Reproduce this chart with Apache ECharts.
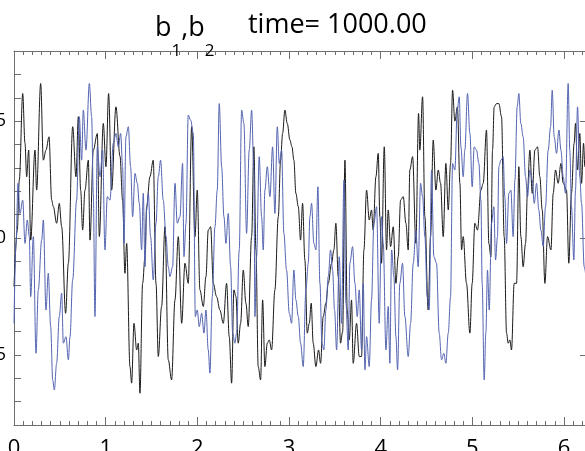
<!DOCTYPE html>
<html>
<head>
<meta charset="utf-8">
<script src="https://cdn.jsdelivr.net/npm/echarts@6/dist/echarts.min.js"></script>
<style>html,body{margin:0;padding:0;background:#fff;}#c{width:585px;height:451px;}</style>
</head>
<body>
<div id="c"></div>
<script>
// x range 0..2*pi, y range -0.8..0.8
const xMin = 0, xMax = 6.2832;
const yMin = -0.8, yMax = 0.8;
const xMajorTicks = [0, 1, 2, 3, 4, 5, 6];
const yLabelValues = [-0.5, 0, 0.5];
const titleTime = 'time= 1000.00';

// b1 (black)
const b1 = [
[0.000,-0.208],[0.036,0.034],[0.058,0.248],[0.095,0.618],[0.120,0.405],[0.138,0.262],[0.160,0.376],[0.182,-0.009],
[0.229,0.376],[0.247,0.205],[0.291,0.661],[0.320,0.333],[0.349,0.376],[0.382,0.433],[0.411,0.162],[0.429,0.134],
[0.465,0.063],[0.494,0.148],[0.520,0.048],[0.563,-0.322],[0.593,-0.108],[0.640,0.476],[0.676,0.262],[0.702,0.519],
[0.727,0.205],[0.749,0.034],[0.774,0.205],[0.811,0.333],[0.829,-0.009],[0.865,0.376],[0.909,0.447],[0.931,0.006],
[0.974,0.490],[1.003,0.305],[1.032,0.618],[1.065,0.205],[1.112,0.561],[1.156,0.350],[1.185,0.160],[1.210,-0.151],
[1.229,-0.023],[1.265,-0.550],[1.283,-0.621],[1.309,-0.365],[1.338,-0.479],[1.356,-0.450],[1.374,-0.664],[1.403,-0.194],
[1.429,-0.080],[1.447,0.134],[1.483,0.262],[1.519,0.333],[1.549,-0.194],[1.574,-0.507],[1.610,-0.293],[1.647,0.048],
[1.683,-0.521],[1.719,-0.607],[1.756,-0.265],[1.792,0.006],[1.829,-0.365],[1.865,-0.108],[1.901,-0.194],[1.938,0.476],
[1.974,0.006],[1.999,0.205],[2.028,-0.222],[2.065,-0.293],[2.094,-0.165],[2.119,0.034],[2.145,0.048],[2.174,-0.194],
[2.210,-0.251],[2.246,-0.308],[2.283,-0.365],[2.319,-0.194],[2.348,-0.422],[2.374,-0.621],[2.399,-0.222],[2.421,-0.251],
[2.446,-0.450],[2.472,-0.365],[2.501,-0.137],[2.530,-0.279],[2.555,-0.379],[2.592,0.006],[2.617,0.390],[2.639,-0.051],
[2.664,-0.550],[2.690,-0.607],[2.712,-0.265],[2.737,-0.550],[2.763,-0.450],[2.784,-0.436],[2.810,-0.479],[2.846,-0.222],
[2.883,0.091],[2.908,0.333],[2.930,0.447],[2.955,0.547],[2.981,0.490],[3.010,0.419],[3.032,0.390],[3.053,0.333],
[3.075,0.191],[3.101,0.134],[3.126,-0.009],[3.148,0.148],[3.173,-0.094],[3.199,-0.407],[3.221,-0.365],[3.242,-0.279],
[3.264,-0.450],[3.293,-0.550],[3.322,-0.479],[3.344,-0.536],[3.373,-0.336],[3.402,-0.279],[3.428,-0.194],[3.464,-0.108],
[3.489,-0.051],[3.511,0.063],[3.537,-0.165],[3.562,-0.450],[3.585,-0.400],[3.610,0.333],[3.635,-0.308],[3.657,-0.436],
[3.682,-0.265],[3.700,-0.536],[3.737,-0.365],[3.766,-0.507],[3.791,-0.507],[3.817,-0.051],[3.846,0.205],[3.875,0.077],
[3.900,0.120],[3.918,0.034],[3.948,0.262],[3.973,0.362],[3.991,0.091],[4.009,-0.108],[4.039,0.390],[4.064,-0.051],
[4.082,0.120],[4.108,-0.037],[4.137,0.048],[4.166,-0.194],[4.191,-0.080],[4.217,0.162],[4.246,0.177],[4.275,0.063],
[4.300,-0.051],[4.318,0.291],[4.348,0.348],[4.384,-0.023],[4.413,0.533],[4.427,0.376],[4.457,0.604],[4.482,0.091],
[4.518,-0.308],[4.544,0.006],[4.573,0.419],[4.602,0.205],[4.628,0.291],[4.653,0.234],[4.682,0.006],[4.711,0.319],
[4.737,0.120],[4.762,0.319],[4.784,0.632],[4.809,0.500],[4.837,0.561],[4.864,0.234],[4.882,-0.051],[4.900,0.006],
[4.936,-0.194],[4.973,-0.407],[4.998,-0.194],[5.027,0.063],[5.056,0.034],[5.093,0.205],[5.118,0.234],[5.154,0.462],
[5.180,-0.023],[5.202,-0.080],[5.220,0.376],[5.238,0.561],[5.264,0.575],[5.289,0.575],[5.318,0.519],[5.347,0.006],
[5.373,-0.407],[5.391,-0.450],[5.409,-0.436],[5.427,-0.479],[5.456,-0.194],[5.482,-0.194],[5.507,0.305],[5.529,0.006],
[5.554,-0.123],[5.580,-0.023],[5.602,0.205],[5.627,0.376],[5.653,0.191],[5.682,0.376],[5.711,0.390],[5.736,0.262],
[5.762,0.120],[5.791,-0.194],[5.820,0.006],[5.857,-0.051],[5.882,0.191],[5.907,0.291],[5.936,0.234],[5.966,0.319],
[5.991,0.234],[6.027,0.205],[6.052,-0.108],[6.081,0.191],[6.110,0.405],[6.125,0.490],[6.147,0.291],[6.172,0.447],
[6.191,0.234],[6.213,0.405],[6.227,0.305],[6.283,0.250]
];

// b2 (blue)
const b2 = [
[0.000,-0.365],[0.022,-0.023],[0.044,0.234],[0.065,0.105],[0.095,0.162],[0.120,-0.023],[0.145,0.077],[0.167,0.006],
[0.182,-0.251],[0.211,0.006],[0.240,-0.493],[0.265,-0.222],[0.302,-0.009],[0.320,0.077],[0.349,-0.308],[0.374,-0.151],
[0.400,-0.379],[0.422,-0.607],[0.440,-0.650],[0.465,-0.536],[0.494,-0.336],[0.520,-0.236],[0.538,-0.450],[0.567,-0.422],
[0.593,-0.521],[0.611,-0.422],[0.640,-0.179],[0.683,0.162],[0.712,0.519],[0.738,0.333],[0.756,0.547],[0.785,0.376],
[0.822,0.661],[0.847,0.519],[0.865,0.191],[0.883,-0.336],[0.909,0.390],[0.938,0.262],[0.967,0.376],[0.992,-0.051],
[1.018,0.177],[1.047,0.162],[1.083,0.405],[1.112,0.447],[1.138,0.390],[1.163,0.447],[1.185,0.305],[1.200,-0.023],
[1.221,0.433],[1.247,0.476],[1.272,0.305],[1.294,0.091],[1.320,0.276],[1.345,0.234],[1.367,0.148],[1.392,-0.051],
[1.410,0.191],[1.429,-0.123],[1.447,0.120],[1.465,0.191],[1.490,0.006],[1.519,-0.179],[1.549,0.063],[1.574,0.262],
[1.599,0.333],[1.628,0.162],[1.658,0.006],[1.683,-0.123],[1.701,-0.165],[1.730,-0.123],[1.756,0.234],[1.781,0.063],
[1.810,0.091],[1.839,0.319],[1.854,-0.080],[1.876,0.063],[1.901,0.526],[1.927,0.504],[1.956,0.447],[1.978,-0.336],
[1.999,-0.308],[2.021,-0.379],[2.047,-0.322],[2.072,-0.407],[2.094,-0.308],[2.119,-0.479],[2.137,-0.578],[2.163,-0.251],
[2.192,0.048],[2.217,0.205],[2.239,0.575],[2.265,0.305],[2.290,0.091],[2.312,-0.023],[2.337,0.105],[2.363,-0.123],
[2.385,-0.407],[2.410,-0.450],[2.428,-0.407],[2.457,-0.051],[2.483,0.547],[2.508,0.490],[2.537,0.020],[2.566,0.376],
[2.592,0.547],[2.617,0.291],[2.628,-0.336],[2.646,-0.080],[2.675,0.348],[2.701,0.091],[2.719,-0.051],[2.737,0.205],
[2.763,0.305],[2.792,0.177],[2.821,0.390],[2.846,0.105],[2.872,0.476],[2.894,0.319],[2.919,0.376],[2.944,0.020],
[2.973,-0.137],[3.003,-0.322],[3.028,-0.365],[3.053,-0.137],[3.075,-0.265],[3.101,-0.336],[3.126,-0.450],[3.155,-0.550],
[3.184,-0.222],[3.210,-0.108],[3.228,0.091],[3.246,0.148],[3.271,-0.023],[3.293,-0.051],[3.315,0.219],[3.337,-0.194],
[3.359,-0.450],[3.380,-0.479],[3.402,-0.308],[3.428,-0.165],[3.453,-0.051],[3.475,-0.137],[3.497,-0.308],[3.519,-0.479],
[3.548,-0.080],[3.573,-0.365],[3.599,0.248],[3.621,-0.279],[3.646,-0.479],[3.664,-0.108],[3.693,-0.037],[3.719,-0.194],
[3.744,-0.336],[3.766,-0.222],[3.791,-0.479],[3.810,-0.194],[3.828,-0.564],[3.846,-0.422],[3.875,-0.550],[3.900,-0.265],
[3.926,0.063],[3.955,0.134],[3.984,-0.365],[4.009,0.091],[4.028,-0.023],[4.057,-0.479],[4.082,-0.293],[4.100,-0.536],
[4.119,-0.051],[4.144,-0.165],[4.166,-0.422],[4.184,-0.564],[4.209,-0.194],[4.238,-0.108],[4.264,-0.336],[4.300,-0.507],
[4.326,-0.365],[4.355,-0.108],[4.384,0.034],[4.409,-0.123],[4.435,0.234],[4.457,0.177],[4.482,0.006],[4.508,-0.251],
[4.529,-0.308],[4.555,0.291],[4.580,-0.080],[4.609,-0.108],[4.638,-0.407],[4.664,-0.521],[4.689,-0.493],[4.711,-0.536],
[4.737,-0.407],[4.762,-0.251],[4.784,0.319],[4.809,0.291],[4.835,0.547],[4.857,0.604],[4.875,0.390],[4.900,0.262],
[4.918,0.376],[4.947,0.618],[4.973,0.447],[4.998,0.219],[5.020,0.390],[5.045,0.376],[5.071,0.319],[5.093,0.162],
[5.107,-0.194],[5.129,-0.607],[5.147,-0.407],[5.165,-0.137],[5.184,-0.308],[5.209,0.063],[5.234,0.134],[5.253,-0.094],
[5.274,0.006],[5.289,0.305],[5.311,0.333],[5.336,0.348],[5.354,0.177],[5.373,-0.023],[5.398,0.191],[5.420,0.205],
[5.445,0.006],[5.464,0.248],[5.489,0.561],[5.507,0.618],[5.529,0.490],[5.554,0.433],[5.580,0.262],[5.602,0.177],
[5.627,0.291],[5.653,0.248],[5.675,0.148],[5.700,0.234],[5.725,0.120],[5.747,0.034],[5.773,-0.037],[5.798,0.134],
[5.827,0.376],[5.853,0.476],[5.871,0.632],[5.893,0.433],[5.918,0.362],[5.944,0.462],[5.966,0.376],[5.991,0.262],
[6.016,0.191],[6.045,0.661],[6.063,0.376],[6.081,0.134],[6.107,-0.094],[6.125,0.205],[6.147,0.561],[6.172,0.262],
[6.191,0.148],[6.220,-0.123],[6.260,-0.220],[6.283,-0.150]
];

const FONT = 'Open Sans';
const AX = '#6e6e6e';
const chart = echarts.init(document.getElementById('c'), null, {renderer: 'canvas'});

function xAxisDef(pos, interval, len, showLine, showLabel) {
  return {
    type: 'value', position: pos, min: xMin, max: xMax, interval: interval,
    axisLine: {show: showLine, onZero: false, lineStyle: {color: AX, width: 1}},
    axisTick: {show: true, inside: true, length: len, lineStyle: {color: AX, width: 1}},
    axisLabel: {show: showLabel, color: '#000', fontFamily: FONT, fontSize: 22, margin: 13,
      customValues: xMajorTicks, formatter: v => String(Math.round(v))},
    splitLine: {show: false}
  };
}

const option = {
  animation: false,
  backgroundColor: '#fff',
  title: [
    {
      left: 150, top: -9,
      text: '{m|b}{s|1}{m|,b}{s|2}',
      textStyle: {
        fontWeight: 'normal',
        rich: {
          m: {fontFamily: FONT, fontSize: 27, fontWeight: 'normal', lineHeight: 64, color: '#000'},
          s: {fontFamily: FONT, fontSize: 17, fontWeight: 'normal', lineHeight: 14, verticalAlign: 'bottom', color: '#000'}
        }
      }
    },
    {
      left: 243, top: 7,
      text: titleTime,
      textStyle: {fontFamily: FONT, fontSize: 27, fontWeight: 'normal', color: '#000'}
    }
  ],
  grid: {left: 14, top: 51, bottom: 26, right: -5, containLabel: false, outerBoundsMode: 'none'},
  xAxis: [
    xAxisDef('bottom', 1, 8, true, true),
    xAxisDef('bottom', 0.1, 4, false, false),
    xAxisDef('top', 1, 8, true, false),
    xAxisDef('top', 0.1, 4, false, false)
  ],
  yAxis: [
    {
      type: 'value', position: 'left', min: yMin, max: yMax, interval: 0.1,
      axisLine: {show: true, onZero: false, lineStyle: {color: AX, width: 1}},
      axisTick: {show: true, inside: true, length: 7, lineStyle: {color: AX, width: 1}},
      axisLabel: {show: true, color: '#000', fontFamily: FONT, fontSize: 18, margin: 8,
        customValues: yLabelValues, formatter: v => v.toFixed(1)},
      splitLine: {show: false}
    },
    {
      type: 'value', position: 'right', min: yMin, max: yMax, interval: 0.1,
      axisLine: {show: true, onZero: false, lineStyle: {color: AX, width: 1}},
      axisTick: {show: true, inside: true, length: 10, customValues: yLabelValues, lineStyle: {color: AX, width: 1}},
      axisLabel: {show: false},
      splitLine: {show: false}
    }
  ],
  series: [
    {
      name: 'b1', type: 'line', data: b1, showSymbol: false, symbol: 'none',
      smooth: 0.35, smoothMonotone: 'x',
      xAxisIndex: 0, yAxisIndex: 0,
      lineStyle: {color: '#1a1a1a', width: 1}, z: 2
    },
    {
      name: 'b2', type: 'line', data: b2, showSymbol: false, symbol: 'none',
      smooth: 0.35, smoothMonotone: 'x',
      xAxisIndex: 0, yAxisIndex: 0,
      lineStyle: {color: '#5464b0', width: 1}, z: 3
    }
  ]
};
chart.setOption(option);
</script>
</body>
</html>
